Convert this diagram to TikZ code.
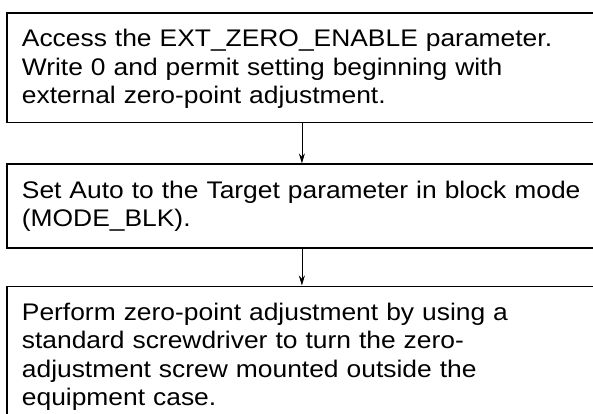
\documentclass[tikz,border=0pt]{standalone}
\usepackage{fontspec}
\setmainfont{Liberation Sans}[FakeStretch=1.10]
\usepackage{tikz}
\usetikzlibrary{positioning, arrows.meta}
\tikzset{
    base/.style={
        font=\fontsize{24}{28.3}\selectfont,
        align=left
    },
    stepbox/.style={
        base,
        rectangle,
        draw=black,
        line width=1.8pt,
        anchor=north west,
        text width=560pt,
        inner xsep=15pt,
        inner ysep=2pt,
        text height=32pt
    },
    flow/.style={
        -{Stealth[length=10pt, width=6pt]},
        line width=0.8pt,
        color=black
    }
}

\begin{document}
\begin{tikzpicture}[x=1pt, y=1pt]
  \clip (0,0) rectangle (593,-414);

  % Steps
  \node[stepbox, text depth=73.6pt] (access) at (6,-12)
    {Access the EXT\_ZERO\_ENABLE parameter.\\
     Write 0 and permit setting beginning with\\
     external zero-point adjustment.};
  \node[stepbox, text depth=47.3pt, below=40pt of access.south west, anchor=north west] (target)
    {Set Auto to the Target parameter in block mode\\
     (MODE\_BLK).};
  \node[stepbox, text depth=104pt, below=37pt of target.south west, anchor=north west] (adjust)
    {Perform zero-point adjustment by using a\\
     standard screwdriver to turn the zero-\\
     adjustment screw mounted outside the\\
     equipment case.};

  % Arrows
  \draw[flow] (access) -- (target);
  \draw[flow] (target) -- (adjust);
\end{tikzpicture}
\end{document}
